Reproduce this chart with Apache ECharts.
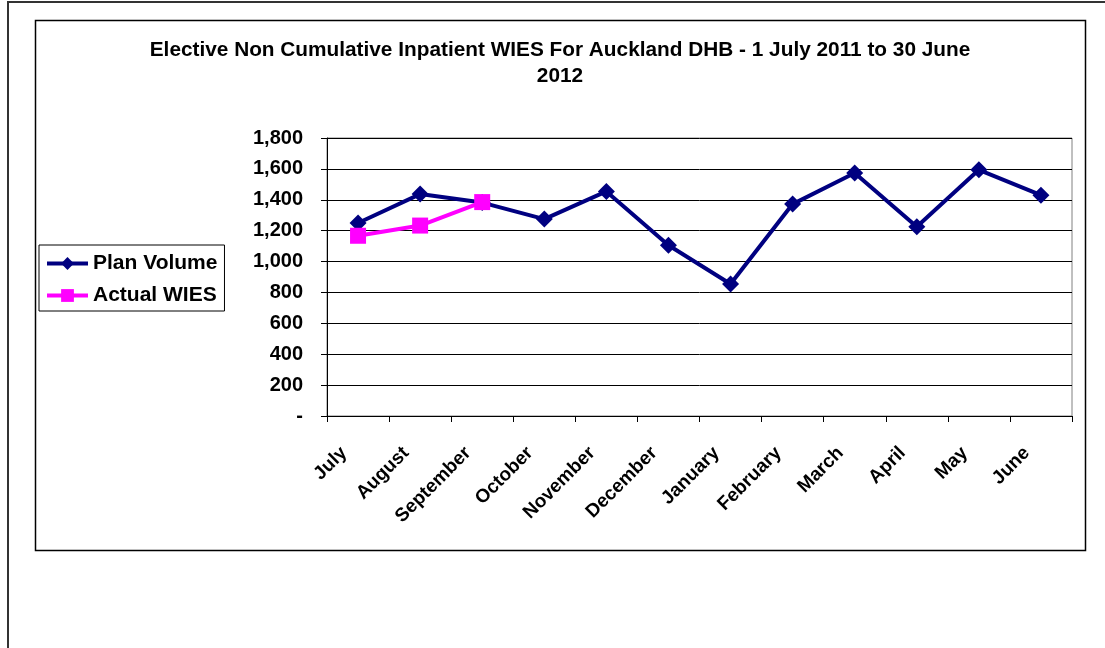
<!DOCTYPE html>
<html>
<head>
<meta charset="utf-8">
<script src="https://cdn.jsdelivr.net/npm/echarts@6/dist/echarts.min.js"></script>
<style>
  html, body { margin: 0; padding: 0; background: #fff; }
  #chart { width: 1105px; height: 648px; }
</style>
</head>
<body>
<div id="chart"></div>
<script>
// Months of the 2011/12 financial year
const months = ['July', 'August', 'September', 'October', 'November', 'December',
  'January', 'February', 'March', 'April', 'May', 'June'];

// Planned elective inpatient WIES per month
const planVolume = [1250, 1437, 1382, 1275, 1454, 1106, 855, 1372, 1573, 1225, 1594, 1430];

// Actual WIES delivered so far
const actualWies = [1167, 1233, 1385];

// Value-axis ticks
const yTicks = [0, 200, 400, 600, 800, 1000, 1200, 1400, 1600, 1800];

const FONT = 'Liberation Sans, Arial, sans-serif';

const chart = echarts.init(document.getElementById('chart'), null, { renderer: 'canvas' });

function fmtTick(v) {
  if (v === 0) return '-';
  return v.toLocaleString('en-US');
}

chart.setOption({
  backgroundColor: '#ffffff',
  animation: false,
  graphic: [
    // outer page frame
    { type: 'rect', shape: { x: 8, y: 2, width: 1200, height: 800 },
      style: { fill: 'none', stroke: '#333', lineWidth: 2 }, silent: true },
    // chart frame
    { type: 'rect', shape: { x: 35.5, y: 20.5, width: 1050, height: 530 },
      style: { fill: 'none', stroke: '#000', lineWidth: 1.5 }, silent: true }
  ],
  title: {
    text: 'Elective Non Cumulative Inpatient WIES For Auckland DHB - 1 July 2011 to 30 June\n2012',
    left: 560,
    top: 37,
    textAlign: 'center',
    padding: 0,
    textStyle: {
      fontFamily: FONT, fontSize: 20.8, fontWeight: 'bold', color: '#000', lineHeight: 26
    }
  },
  legend: {
    orient: 'vertical',
    left: 39,
    top: 245,
    padding: [8, 7, 5, 6],
    itemGap: 11,
    itemWidth: 41,
    itemHeight: 16,
    itemTextGap: 5,
    borderColor: '#000',
    borderWidth: 1,
    backgroundColor: '#fff',
    lineStyle: { width: 4 },
    textStyle: { fontFamily: FONT, fontSize: 21, fontWeight: 'bold', color: '#000', lineHeight: 20 },
    data: ['Plan Volume', 'Actual WIES']
  },
  grid: {
    left: 327, top: 138, right: 33, bottom: 232,
    show: true, borderColor: '#808080', borderWidth: 1, containLabel: false
  },
  xAxis: {
    type: 'category',
    data: months,
    boundaryGap: true,
    axisLine: { lineStyle: { color: '#000', width: 1 } },
    axisTick: { show: true, length: 6, alignWithLabel: false, interval: 0, lineStyle: { color: '#000' } },
    axisLabel: {
      interval: 0, rotate: 45, margin: 20,
      padding: [0, 20, 0, 0],
      fontFamily: FONT, fontSize: 19, fontWeight: 'bold', color: '#000'
    },
    splitLine: { show: false }
  },
  yAxis: {
    type: 'value',
    min: yTicks[0],
    max: yTicks[yTicks.length - 1],
    interval: yTicks[1] - yTicks[0],
    axisLine: { show: true, lineStyle: { color: '#000', width: 1 } },
    axisTick: { show: true, length: 6, lineStyle: { color: '#000' } },
    axisLabel: {
      margin: 24,
      formatter: fmtTick,
      fontFamily: FONT, fontSize: 20, fontWeight: 'bold', color: '#000'
    },
    splitLine: { show: true, lineStyle: { color: '#000', width: 1 } }
  },
  series: [
    {
      name: 'Plan Volume',
      type: 'line',
      data: planVolume,
      symbol: 'diamond',
      symbolSize: 17,
      lineStyle: { color: '#000080', width: 4 },
      itemStyle: { color: '#000080' },
      z: 2
    },
    {
      name: 'Actual WIES',
      type: 'line',
      data: actualWies,
      symbol: 'rect',
      symbolSize: 16,
      lineStyle: { color: '#ff00ff', width: 4 },
      itemStyle: { color: '#ff00ff' },
      z: 3
    }
  ]
});
</script>
</body>
</html>
